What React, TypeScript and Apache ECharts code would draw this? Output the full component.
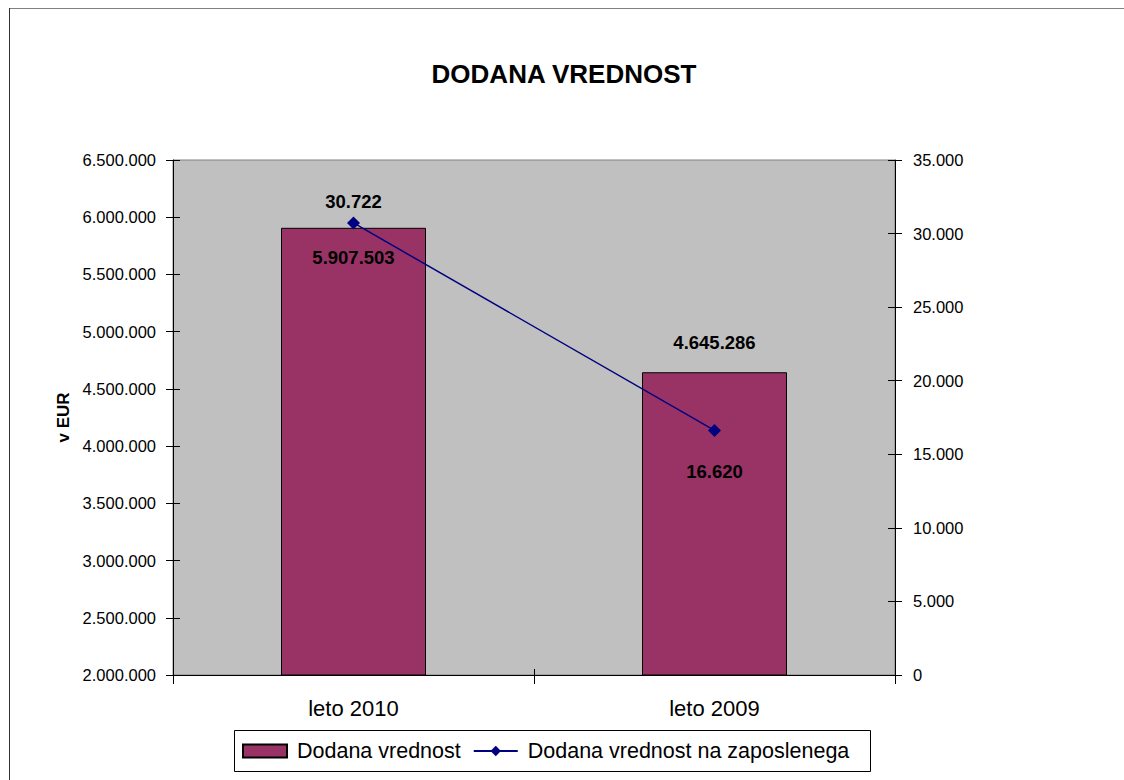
import React, { useEffect, useRef } from 'react';
import * as echarts from 'echarts';

const titleText = 'DODANA VREDNOST';
const categories = ['leto 2010', 'leto 2009'];
const seriesNames = ['Dodana vrednost', 'Dodana vrednost na zaposlenega'];
const addedValue = [5907503, 4645286];
const addedValuePerEmployee = [30722, 16620];
const leftAxisRange = [2000000, 6500000, 500000];
const rightAxisRange = [0, 35000, 5000];
const yAxisName = 'v EUR';

const fmt = (n: number) => String(Math.round(n)).replace(/\B(?=(\d{3})+(?!\d))/g, '.');

const SANS = "'Liberation Sans', Arial, sans-serif";

export default function App() {
  const ref = useRef<HTMLDivElement>(null);
  useEffect(() => {
    if (!ref.current) return;
    const chart = echarts.init(ref.current, undefined, { renderer: 'svg' });
    const grid = { left: 173, top: 160, width: 722, height: 515 };
    const leftBase = {
      type: 'value' as const,
      min: leftAxisRange[0],
      max: leftAxisRange[1],
      interval: leftAxisRange[2],
      position: 'left' as const,
    };
    const rightBase = {
      type: 'value' as const,
      min: rightAxisRange[0],
      max: rightAxisRange[1],
      interval: rightAxisRange[2],
      position: 'right' as const,
    };
    const option: any = {
      animation: false,
      backgroundColor: '#ffffff',
      title: {
        text: titleText,
        left: 559,
        top: 56,
        textAlign: 'center',
        textStyle: { fontFamily: SANS, fontWeight: 'bold', fontSize: 26, color: '#000' },
      },
      grid: {
        ...grid,
        show: true,
        backgroundColor: '#C0C0C0',
        borderColor: '#808080',
        borderWidth: 1,
      },
      legend: {
        left: 242,
        top: 740,
        padding: 0,
        itemWidth: 44,
        itemHeight: 13,
        itemGap: 12,
        textStyle: { fontFamily: SANS, fontSize: 21.5, color: '#000', padding: [0, 0, 0, 5] },
        data: [
          { name: seriesNames[0], icon: 'rect' },
          { name: seriesNames[1] },
        ],
      },
      xAxis: [
        {
          type: 'category',
          data: categories,
          boundaryGap: true,
          axisLine: { show: true, lineStyle: { color: '#000', width: 1 } },
          axisTick: { show: true, inside: false, length: 9, lineStyle: { color: '#000' } },
          axisLabel: { margin: 22, fontFamily: SANS, fontSize: 22, color: '#000' },
          splitLine: { show: false },
        },
        {
          type: 'category',
          data: categories,
          position: 'bottom',
          boundaryGap: true,
          axisLine: { show: false },
          axisTick: { show: true, inside: true, length: 6, lineStyle: { color: '#000' } },
          axisLabel: { show: false },
          splitLine: { show: false },
        },
      ],
      yAxis: [
        {
          ...leftBase,
          name: yAxisName,
          nameLocation: 'middle',
          nameGap: 99,
          nameRotate: 90,
          nameTextStyle: { fontFamily: SANS, fontWeight: 'bold', fontSize: 17, color: '#000' },
          axisLine: { show: true, lineStyle: { color: '#000', width: 1 } },
          axisTick: { show: true, inside: false, length: 7, lineStyle: { color: '#000' } },
          axisLabel: { margin: 17, fontFamily: SANS, fontSize: 16.5, color: '#000', formatter: (v: number) => fmt(v) },
          splitLine: { show: false },
        },
        {
          ...rightBase,
          axisLine: { show: true, lineStyle: { color: '#000', width: 1 } },
          axisTick: { show: true, inside: false, length: 7, lineStyle: { color: '#000' } },
          axisLabel: { margin: 18, fontFamily: SANS, fontSize: 16.5, color: '#000', formatter: (v: number) => fmt(v) },
          splitLine: { show: false },
        },
        {
          ...leftBase,
          axisLine: { show: false },
          axisTick: { show: true, inside: true, length: 7, lineStyle: { color: '#000' } },
          axisLabel: { show: false },
          splitLine: { show: false },
        },
        {
          ...rightBase,
          axisLine: { show: false },
          axisTick: { show: true, inside: true, length: 7, lineStyle: { color: '#000' } },
          axisLabel: { show: false },
          splitLine: { show: false },
        },
      ],
      series: [
        {
          name: seriesNames[0],
          type: 'bar',
          xAxisIndex: 0,
          yAxisIndex: 0,
          barWidth: 145,
          itemStyle: { color: '#993366', borderColor: '#000', borderWidth: 1 },
          label: {
            show: true,
            fontFamily: SANS,
            fontWeight: 'bold',
            fontSize: 18.5,
            color: '#000',
            formatter: (p: any) => fmt(p.value),
          },
          data: addedValue.map((v, i) => ({
            value: v,
            label: i === 0 ? { position: 'insideTop', distance: 20 } : { position: 'top', distance: 20 },
          })),
          z: 2,
        },
        {
          name: seriesNames[1],
          type: 'line',
          xAxisIndex: 0,
          yAxisIndex: 1,
          symbol: 'diamond',
          symbolSize: 13,
          lineStyle: { color: '#000080', width: 1.5 },
          itemStyle: { color: '#000080' },
          label: {
            show: true,
            fontFamily: SANS,
            fontWeight: 'bold',
            fontSize: 18.5,
            color: '#000',
            formatter: (p: any) => fmt(p.value),
          },
          data: addedValuePerEmployee.map((v, i) => ({
            value: v,
            label: i === 0 ? { position: 'top', distance: 5 } : { position: 'bottom', distance: 25 },
          })),
          z: 3,
        },
      ],
      graphic: [
        {
          type: 'line',
          shape: { x1: 9, y1: 8.5, x2: 1124, y2: 8.5 },
          style: { stroke: '#808080', lineWidth: 1 },
          silent: true,
        },
        {
          type: 'line',
          shape: { x1: 9.5, y1: 8, x2: 9.5, y2: 780 },
          style: { stroke: '#333', lineWidth: 1 },
          silent: true,
        },
        {
          type: 'rect',
          shape: { x: 234.5, y: 730.5, width: 636, height: 41 },
          style: { fill: 'none', stroke: '#000', lineWidth: 1 },
          silent: true,
          z: -1,
        },
      ],
    };
    chart.setOption(option);
    return () => chart.dispose();
  }, []);
  return (
    <div
      ref={ref}
      style={{ position: 'absolute', left: 0, top: 0, width: 1124, height: 780 }}
    />
  );
}
